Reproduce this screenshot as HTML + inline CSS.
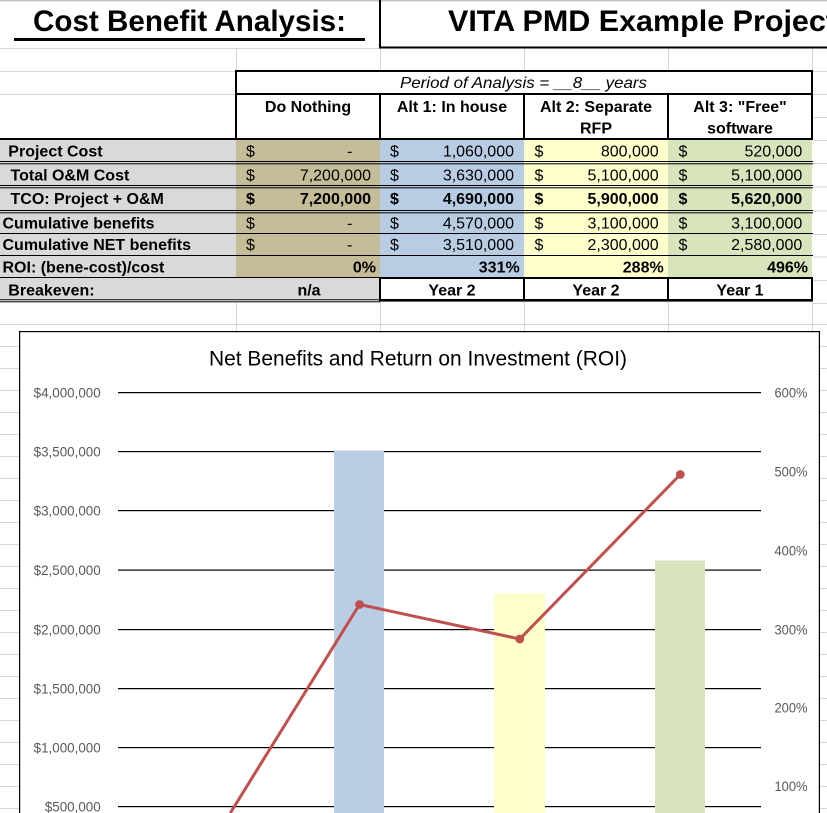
<!DOCTYPE html>
<html><head><meta charset="utf-8"><style>
html,body{margin:0;padding:0;background:#fff;width:827px;height:813px;overflow:hidden;}
svg{display:block;}
text{font-family:"Liberation Sans",Arial,sans-serif;}
.b{font-weight:bold;}
.t16{font-size:16px;}
.ax{font-size:13.4px;fill:#595959;}
</style></head><body>
<svg width="827" height="813" viewBox="0 0 827 813" xmlns="http://www.w3.org/2000/svg">
<rect x="0" y="0" width="827" height="813" fill="#fff"/>
<!-- spreadsheet gridlines -->
<g fill="#d6d6d6">
<rect x="0" y="0" width="827" height="1.5" fill="#c4c4c4"/>
<rect x="0" y="48" width="380" height="1"/>
<rect x="0" y="71" width="236" height="1"/>
<rect x="0" y="94" width="236" height="1"/>
<rect x="236" y="48" width="1" height="23"/>
<rect x="380" y="48" width="1" height="23"/>
<rect x="524" y="48" width="1" height="23"/>
<rect x="668" y="48" width="1" height="23"/>
<rect x="812" y="48" width="1" height="23"/>
<rect x="813" y="71" width="14" height="1"/>
<rect x="813" y="94" width="14" height="1"/>
<rect x="813" y="117" width="14" height="1"/>
<rect x="813" y="140" width="14" height="1"/>
<rect x="813" y="163" width="14" height="1"/>
<rect x="813" y="186.5" width="14" height="1"/>
<rect x="813" y="210.5" width="14" height="1"/>
<rect x="813" y="234" width="14" height="1"/>
<rect x="813" y="256.5" width="14" height="1"/>
<rect x="813" y="280" width="14" height="1"/>
<rect x="813" y="303" width="14" height="1"/>
<rect x="0" y="324" width="827" height="1"/>
<rect x="236" y="302" width="1" height="30"/>
<rect x="380" y="302" width="1" height="30"/>
<rect x="524" y="302" width="1" height="30"/>
<rect x="668" y="302" width="1" height="30"/>
<rect x="812" y="302" width="1" height="30"/>
<rect x="0" y="346" width="19" height="1"/><rect x="820" y="346" width="7" height="1"/>
<rect x="0" y="368" width="19" height="1"/><rect x="820" y="368" width="7" height="1"/>
<rect x="0" y="390" width="19" height="1"/><rect x="820" y="390" width="7" height="1"/>
<rect x="0" y="412" width="19" height="1"/><rect x="820" y="412" width="7" height="1"/>
<rect x="0" y="434" width="19" height="1"/><rect x="820" y="434" width="7" height="1"/>
<rect x="0" y="456" width="19" height="1"/><rect x="820" y="456" width="7" height="1"/>
<rect x="0" y="478" width="19" height="1"/><rect x="820" y="478" width="7" height="1"/>
<rect x="0" y="500" width="19" height="1"/><rect x="820" y="500" width="7" height="1"/>
<rect x="0" y="522" width="19" height="1"/><rect x="820" y="522" width="7" height="1"/>
<rect x="0" y="544" width="19" height="1"/><rect x="820" y="544" width="7" height="1"/>
<rect x="0" y="566" width="19" height="1"/><rect x="820" y="566" width="7" height="1"/>
<rect x="0" y="588" width="19" height="1"/><rect x="820" y="588" width="7" height="1"/>
<rect x="0" y="610" width="19" height="1"/><rect x="820" y="610" width="7" height="1"/>
<rect x="0" y="632" width="19" height="1"/><rect x="820" y="632" width="7" height="1"/>
<rect x="0" y="654" width="19" height="1"/><rect x="820" y="654" width="7" height="1"/>
<rect x="0" y="676" width="19" height="1"/><rect x="820" y="676" width="7" height="1"/>
<rect x="0" y="698" width="19" height="1"/><rect x="820" y="698" width="7" height="1"/>
<rect x="0" y="720" width="19" height="1"/><rect x="820" y="720" width="7" height="1"/>
<rect x="0" y="742" width="19" height="1"/><rect x="820" y="742" width="7" height="1"/>
<rect x="0" y="764" width="19" height="1"/><rect x="820" y="764" width="7" height="1"/>
<rect x="0" y="786" width="19" height="1"/><rect x="820" y="786" width="7" height="1"/>
<rect x="0" y="808" width="19" height="1"/><rect x="820" y="808" width="7" height="1"/>
</g>

<!-- title -->
<text x="33" y="31" class="b" font-size="29.6">Cost Benefit Analysis:</text>
<rect x="14" y="38" width="351" height="3" fill="#000"/>
<rect x="379" y="0" width="2" height="48" fill="#000"/>
<rect x="379" y="46.5" width="448" height="2" fill="#000"/>
<text x="448" y="31" class="b" font-size="29.6" textLength="388" lengthAdjust="spacingAndGlyphs">VITA PMD Example Project</text>

<!-- table fills -->
<rect x="0" y="140" width="236" height="160" fill="#d9d9d9"/>
<rect x="0" y="278" width="380" height="22" fill="#d9d9d9"/>
<rect x="236" y="140" width="144" height="138" fill="#c4bd97"/>
<rect x="380" y="140" width="144" height="138" fill="#b8cce4"/>
<rect x="524" y="140" width="144" height="138" fill="#ffffcc"/>
<rect x="668" y="140" width="144" height="138" fill="#d8e4bc"/>

<!-- table lines -->
<g fill="#000">
<rect x="235" y="70" width="578" height="2"/>
<rect x="235" y="93" width="578" height="2"/>
<rect x="0" y="138" width="813" height="2"/>
<rect x="235" y="70" width="2" height="70"/>
<rect x="379" y="94" width="2" height="46"/>
<rect x="523" y="94" width="2" height="46"/>
<rect x="667" y="94" width="2" height="46"/>
<rect x="811" y="70" width="2" height="70"/>
<rect x="0" y="161" width="813" height="1"/>
<rect x="0" y="163.3" width="813" height="1"/>
<rect x="0" y="185" width="813" height="1"/>
<rect x="0" y="187.3" width="813" height="1"/>
<rect x="0" y="210" width="813" height="1"/>
<rect x="0" y="212.3" width="813" height="1"/>
<rect x="0" y="233" width="813" height="1"/>
<rect x="0" y="255" width="813" height="1"/>
<rect x="0" y="277" width="380" height="1"/>
<rect x="379" y="277" width="434" height="2"/>
<rect x="379" y="277" width="2" height="24"/>
<rect x="523" y="277" width="2" height="24"/>
<rect x="667" y="277" width="2" height="24"/>
<rect x="811" y="277" width="2" height="24"/>
<rect x="0" y="299.3" width="380" height="1"/>
<rect x="0" y="301.3" width="380" height="1"/>
<rect x="379" y="299" width="434" height="2.6"/>
</g>

<!-- header text -->
<text x="400" y="88" class="t16" font-style="italic" textLength="247" lengthAdjust="spacingAndGlyphs">Period of Analysis = __8__ years</text>
<g class="b t16" text-anchor="middle">
<text x="308" y="112">Do Nothing</text>
<text x="452" y="112">Alt 1: In house</text>
<text x="596" y="112">Alt 2: Separate</text>
<text x="596" y="133.3">RFP</text>
<text x="740" y="112">Alt 3: "Free"</text>
<text x="740" y="133.3">software</text>
</g>

<!-- row labels -->
<g class="b t16">
<text x="8.3" y="156.7">Project Cost</text>
<text x="10.5" y="180.7">Total O&amp;M Cost</text>
<text x="10.5" y="204">TCO: Project + O&amp;M</text>
<text x="2.5" y="228.3">Cumulative benefits</text>
<text x="2.5" y="250">Cumulative NET benefits</text>
<text x="2.5" y="272.3">ROI: (bene-cost)/cost</text>
<text x="8.3" y="295.7">Breakeven:</text>
</g>

<!-- dollar signs -->
<g class="t16">
<text x="246" y="156.7">$</text><text x="390" y="156.7">$</text><text x="534.5" y="156.7">$</text><text x="678.5" y="156.7">$</text>
<text x="246" y="180.7">$</text><text x="390" y="180.7">$</text><text x="534.5" y="180.7">$</text><text x="678.5" y="180.7">$</text>
<text x="246" y="228.3">$</text><text x="390" y="228.3">$</text><text x="534.5" y="228.3">$</text><text x="678.5" y="228.3">$</text>
<text x="246" y="250">$</text><text x="390" y="250">$</text><text x="534.5" y="250">$</text><text x="678.5" y="250">$</text>
</g>
<g class="t16 b">
<text x="246" y="204">$</text><text x="390" y="204">$</text><text x="534.5" y="204">$</text><text x="678.5" y="204">$</text>
</g>
<!-- numbers -->
<g class="t16" text-anchor="end">
<text x="352.3" y="156.7">-</text>
<text x="514" y="156.7">1,060,000</text>
<text x="658.7" y="156.7">800,000</text>
<text x="802.3" y="156.7">520,000</text>
<text x="371" y="180.7">7,200,000</text>
<text x="514" y="180.7">3,630,000</text>
<text x="658.7" y="180.7">5,100,000</text>
<text x="802.3" y="180.7">5,100,000</text>
<text x="352.3" y="228.3">-</text>
<text x="514" y="228.3">4,570,000</text>
<text x="658.7" y="228.3">3,100,000</text>
<text x="802.3" y="228.3">3,100,000</text>
<text x="352.3" y="250">-</text>
<text x="514" y="250">3,510,000</text>
<text x="658.7" y="250">2,300,000</text>
<text x="802.3" y="250">2,580,000</text>
</g>
<g class="t16 b" text-anchor="end">
<text x="371" y="204">7,200,000</text>
<text x="514" y="204">4,690,000</text>
<text x="658.7" y="204">5,900,000</text>
<text x="802.3" y="204">5,620,000</text>
<text x="376" y="272.3">0%</text>
<text x="519.7" y="272.3">331%</text>
<text x="663.7" y="272.3">288%</text>
<text x="808" y="272.3">496%</text>
</g>
<g class="t16 b" text-anchor="middle">
<text x="309" y="295.7">n/a</text>
<text x="452" y="295.7">Year 2</text>
<text x="596" y="295.7">Year 2</text>
<text x="740" y="295.7">Year 1</text>
</g>

<!-- chart -->
<rect x="19" y="331" width="801" height="482" fill="#000"/>
<rect x="20.2" y="332.2" width="798.6" height="480.8" fill="#fff"/>
<text x="418" y="365.7" font-size="21" text-anchor="middle" fill="#000" textLength="418" lengthAdjust="spacingAndGlyphs">Net Benefits and Return on Investment (ROI)</text>
<g fill="#000">
<rect x="118" y="392" width="643" height="1.2"/>
<rect x="118" y="451" width="643" height="1.2"/>
<rect x="118" y="510" width="643" height="1.2"/>
<rect x="118" y="569.5" width="643" height="1.2"/>
<rect x="118" y="629" width="643" height="1.2"/>
<rect x="118" y="688" width="643" height="1.2"/>
<rect x="118" y="747" width="643" height="1.2"/>
<rect x="118" y="806" width="643" height="1.2"/>
</g>
<rect x="334" y="450.5" width="50" height="362.5" fill="#b9cde5"/>
<rect x="494" y="593.5" width="51" height="219.5" fill="#ffffcc"/>
<rect x="655" y="560.5" width="50" height="252.5" fill="#d7e4bd"/>
<polyline points="230.3,813 359.5,604.5 519.8,639 680.3,474.5" fill="none" stroke="#c0504d" stroke-width="3" stroke-linejoin="round"/>
<circle cx="359.5" cy="604.5" r="4.4" fill="#c0504d"/>
<circle cx="519.8" cy="639" r="4.4" fill="#c0504d"/>
<circle cx="680.3" cy="474.5" r="4.4" fill="#c0504d"/>
<g class="ax" text-anchor="end">
<text x="100.7" y="397.3">$4,000,000</text>
<text x="100.7" y="456.3">$3,500,000</text>
<text x="100.7" y="515.3">$3,000,000</text>
<text x="100.7" y="575">$2,500,000</text>
<text x="100.7" y="634.3">$2,000,000</text>
<text x="100.7" y="693.3">$1,500,000</text>
<text x="100.7" y="752.3">$1,000,000</text>
<text x="100.7" y="811.3">$500,000</text>
</g>
<g class="ax">
<text x="774.5" y="397.3" textLength="33" lengthAdjust="spacingAndGlyphs">600%</text>
<text x="774.5" y="476.7" textLength="33" lengthAdjust="spacingAndGlyphs">500%</text>
<text x="774.5" y="555.5" textLength="33" lengthAdjust="spacingAndGlyphs">400%</text>
<text x="774.5" y="634.3" textLength="33" lengthAdjust="spacingAndGlyphs">300%</text>
<text x="774.5" y="712.5" textLength="33" lengthAdjust="spacingAndGlyphs">200%</text>
<text x="774.5" y="791" textLength="33" lengthAdjust="spacingAndGlyphs">100%</text>
</g>
</svg>
</body></html>
